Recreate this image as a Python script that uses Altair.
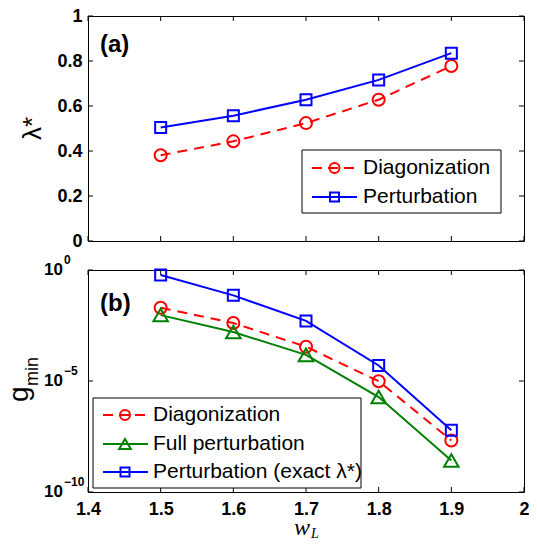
import altair as alt
import pandas as pd

# ---------------- data ----------------
w_vals = [1.5, 1.6, 1.7, 1.8, 1.9]
lam_diag = [0.381, 0.443, 0.524, 0.628, 0.778]
lam_pert = [0.504, 0.557, 0.628, 0.716, 0.835]
g_diag = [2.0e-2, 4.1e-3, 3.5e-4, 9.8e-6, 2.1e-8]
g_full = [9.3e-3, 1.6e-3, 1.5e-4, 1.9e-6, 2.6e-9]
g_pert = [5.9e-1, 7.2e-2, 5.1e-3, 5.0e-5, 6.0e-8]

names_a = ["Diagonization", "Perturbation"]
names_b = ["Diagonization", "Full perturbation", "Perturbation (exact λ*)"]

x_ticks = [1.4, 1.5, 1.6, 1.7, 1.8, 1.9, 2.0]
ya_ticks = [0, 0.2, 0.4, 0.6, 0.8, 1.0]
yb_ticks = [1.0, 1e-5, 1e-10]
yb_exps = ["0", "\u22125", "\u221210"]

RED, GREEN, BLUE = "#ff0000", "#008000", "#0000ff"
FONT = "Liberation Sans"
SERIF = "Liberation Serif"

W, HA, HB = 436, 225, 222

styles = {
    "diag": dict(color=RED, dash=[10, 7], ldash=[10, 6], shape="circle", size=144, lsize=100),
    "full": dict(color=GREEN, dash=None, ldash=None, shape="triangle-up", size=210, lsize=135),
    "pert": dict(color=BLUE, dash=None, ldash=None, shape="square", size=121, lsize=81),
}

one = pd.DataFrame({"k": [0]})

xscale = alt.Scale(domain=[1.4, 2.0], nice=False, zero=False)
ya_scale = alt.Scale(domain=[0, 1], nice=False, zero=False)
yb_scale = alt.Scale(type="log", domain=[1e-10, 1], nice=False)

lab = dict(labelFont=FONT, labelFontSize=18, labelFontWeight="bold", labelColor="black",
           ticks=False, domain=False, grid=False, title=None, labelOverlap=False, labelFlush=False)

ya_axis = alt.Axis(values=ya_ticks, labelExpr="format(datum.value, '~g')", labelPadding=6, **lab)
xb_axis = alt.Axis(values=x_ticks, labelExpr="format(datum.value, '~g')", labelPadding=8, **lab)


def XA(f):
    return alt.X(f, scale=xscale, axis=None)


def YA(f):
    return alt.Y(f, scale=ya_scale, axis=ya_axis)


def XB(f):
    return alt.X(f, scale=xscale, axis=xb_axis)


def YB(f):
    return alt.Y(f, scale=yb_scale, axis=None)


def tick_layers(X, Y, yt, H):
    dx = pd.DataFrame({"t": x_ticks})
    dy = pd.DataFrame({"t": yt})
    k = 5
    return [
        alt.Chart(dx).mark_rule(color="black", strokeWidth=1).encode(x=X("t:Q"), y=alt.value(H), y2=alt.value(H - k)),
        alt.Chart(dx).mark_rule(color="black", strokeWidth=1).encode(x=X("t:Q"), y=alt.value(0), y2=alt.value(k)),
        alt.Chart(dy).mark_rule(color="black", strokeWidth=1).encode(y=Y("t:Q"), x=alt.value(0), x2=alt.value(k)),
        alt.Chart(dy).mark_rule(color="black", strokeWidth=1).encode(y=Y("t:Q"), x=alt.value(W), x2=alt.value(W - k)),
    ]


def series_layers(X, Y, vals, st):
    df = pd.DataFrame({"w": w_vals, "v": vals})
    lk = dict(color=st["color"], strokeWidth=2)
    if st["dash"]:
        lk["strokeDash"] = st["dash"]
    line = alt.Chart(df).mark_line(**lk).encode(x=X("w:Q"), y=Y("v:Q"))
    pts = alt.Chart(df).mark_point(shape=st["shape"], size=st["size"], filled=False, color=st["color"],
                                   strokeWidth=2, opacity=1).encode(x=X("w:Q"), y=Y("v:Q"))
    return [line, pts]


def legend_layers(box, rows, line_x, mark_x, text_x, names, sts):
    layers = [alt.Chart(one).mark_rect(fill="white", stroke="black", strokeWidth=1).encode(
        x=alt.value(box[0]), x2=alt.value(box[1]), y=alt.value(box[2]), y2=alt.value(box[3]))]
    for name, st, ry in zip(names, sts, rows):
        rk = dict(color=st["color"], strokeWidth=2)
        if st["ldash"]:
            rk["strokeDash"] = st["ldash"]
        layers.append(alt.Chart(one).mark_rule(**rk).encode(
            x=alt.value(line_x[0]), x2=alt.value(line_x[1]), y=alt.value(ry)))
        layers.append(alt.Chart(one).mark_point(shape=st["shape"], size=st["lsize"], filled=False,
                                                color=st["color"], strokeWidth=2, opacity=1).encode(
            x=alt.value(mark_x), y=alt.value(ry)))
        layers.append(alt.Chart(one).mark_text(font=FONT, fontSize=21, align="left", baseline="middle",
                                               color="black").encode(
            x=alt.value(text_x), y=alt.value(ry), text=alt.value(name)))
    return layers


def gtext(opacity):
    return alt.Chart(one).mark_text(font=FONT, fontSize=28, angle=270, align="left",
                                    baseline="alphabetic", color="black", opacity=opacity).encode(
        x=alt.value(-60), y=alt.value(132), text=alt.value("g"))


# ---------------- panel (a) ----------------
layers_a = tick_layers(XA, YA, ya_ticks, HA)
layers_a += series_layers(XA, YA, lam_diag, styles["diag"])
layers_a += series_layers(XA, YA, lam_pert, styles["pert"])
layers_a += legend_layers((214, 413, 134, 197), [152, 181], (224, 269), 246.5, 275,
                          names_a, [styles["diag"], styles["pert"]])
layers_a.append(alt.Chart(one).mark_text(font=FONT, fontSize=24, fontWeight="bold", align="left",
                                         baseline="middle", color="black", text="(a)").encode(
    x=alt.value(12), y=alt.value(29)))
layers_a.append(alt.Chart(one).mark_text(font=FONT, fontSize=26, angle=270, align="center",
                                         baseline="middle", color="black").encode(
    x=alt.value(-55), y=alt.value(HA / 2), text=alt.value("λ*")))
layers_a.append(gtext(0))

top = alt.layer(*layers_a).properties(width=W, height=HA)

# ---------------- panel (b) ----------------
layers_b = tick_layers(XB, YB, yb_ticks, HB)
layers_b += series_layers(XB, YB, g_diag, styles["diag"])
layers_b += series_layers(XB, YB, g_full, styles["full"])
layers_b += series_layers(XB, YB, g_pert, styles["pert"])
layers_b += legend_layers((5, 273, 128, 218), [145, 174, 202], (15, 60), 37, 65,
                          names_b, [styles["diag"], styles["full"], styles["pert"]])
layers_b.append(alt.Chart(one).mark_text(font=FONT, fontSize=24, fontWeight="bold", align="left",
                                         baseline="middle", color="black", text="(b)").encode(
    x=alt.value(12), y=alt.value(34)))

dyl = pd.DataFrame({"t": yb_ticks, "e": yb_exps})
layers_b.append(alt.Chart(dyl).mark_text(font=FONT, fontSize=17, fontWeight="bold", align="left",
                                         baseline="middle", color="black", text="10").encode(
    x=alt.value(-44), y=YB("t:Q")))
layers_b.append(alt.Chart(dyl).mark_text(font=FONT, fontSize=12, fontWeight="bold", align="left",
                                         baseline="middle", dy=-10, color="black").encode(
    x=alt.value(-24), y=YB("t:Q"), text="e:N"))

# y title g_min
layers_b.append(gtext(1))
layers_b.append(alt.Chart(one).mark_text(font=FONT, fontSize=18, angle=270, align="left",
                                         baseline="alphabetic", color="black").encode(
    x=alt.value(-50), y=alt.value(116), text=alt.value("min")))
# x title w_L
layers_b.append(alt.Chart(one).mark_text(font=SERIF, fontSize=24, fontStyle="italic", align="center",
                                         baseline="alphabetic", color="black").encode(
    x=alt.value(214), y=alt.value(265), text=alt.value("w")))
layers_b.append(alt.Chart(one).mark_text(font=SERIF, fontSize=14, fontStyle="italic", align="left",
                                         baseline="alphabetic", color="black").encode(
    x=alt.value(223), y=alt.value(268), text=alt.value("L")))

bot = alt.layer(*layers_b).properties(width=W, height=HB)

chart = alt.vconcat(top, bot, spacing=2).properties(
    padding={"left": -3, "top": -2, "right": -1, "bottom": -2},
    background="white",
).configure_view(stroke="black", strokeWidth=1)

chart.save("out.html", embed_options={"renderer": "svg", "actions": False})
